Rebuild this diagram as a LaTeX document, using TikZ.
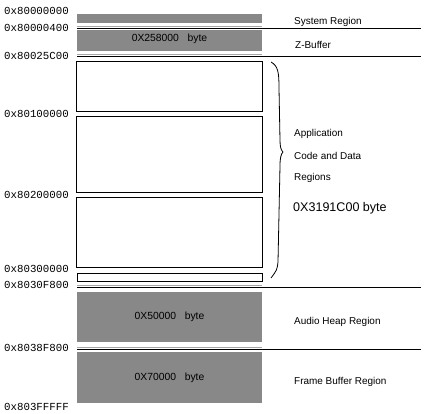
\documentclass[tikz,border=0pt]{standalone}
\usepackage{fontspec}
\setmainfont{Liberation Sans}
\newfontfamily\addrfont{Liberation Mono}
\usepackage{xcolor}
\definecolor{blockgray}{RGB}{136,136,136}
\usetikzlibrary{positioning}

\begin{document}
\begin{tikzpicture}[x=1bp, y=-1bp,
        graybox/.style={rectangle, fill=blockgray, inner sep=0pt, outer sep=0pt, minimum width=185bp},
        appbox/.style={rectangle, draw, line width=1bp, fill=white, inner sep=0pt, outer sep=0pt, minimum width=185bp},
        addr/.style={anchor=west, inner sep=0pt, font=\addrfont\fontsize{10.8}{12}\selectfont},
        region/.style={anchor=west, inner sep=0pt, font=\fontsize{10}{11}\selectfont},
        size/.style={inner sep=0pt, font=\fontsize{10.4}{11}\selectfont}]
        \useasboundingbox (0,0) rectangle (426,414);

        % memory blocks
        \node[graybox, minimum height=9.5bp] (sys) at (169.5,18.5) {};
        \node[graybox, minimum height=21bp] (zbuf) at (169.5,40.5) {};
        \node[appbox, minimum height=50bp] (app1) at (169.5,86) {};
        \node[appbox, minimum height=76bp] (app2) at (169.5,154) {};
        \node[appbox, minimum height=70bp] (app3) at (169.5,232) {};
        \node[appbox, line width=0.8bp, minimum height=8bp] (app4) at (169.5,277) {};
        \node[graybox, minimum height=50.5bp] (audio) at (169.5,317) {};
        \node[graybox, minimum height=51bp] (frame) at (169.5,377.5) {};

        \node[size] at ([yshift=1.5bp]zbuf) {0X258000\ \ \ byte};
        \node[size] at (audio) {0X50000\ \ \ byte};
        \node[size] at (frame) {0X70000\ \ \ byte};

        % separator lines
        \coordinate (s1a) at (77,28);
        \coordinate (s1b) at (421,28);
        \coordinate (s2a) at (77,56);
        \coordinate (s2b) at (421,56);
        \coordinate (s3a) at (77,287);
        \coordinate (s3b) at (421,287);
        \coordinate (s4a) at (77,349);
        \coordinate (s4b) at (421,349);
        \draw[line width=1bp] (s1a) to (s1b)
            (s2a) to (s2b)
            (s3a) to (s3b)
            (s4a) to (s4b);
        \draw[gray!70, line width=0.8bp] ([yshift=2bp]s1a) to ++(185,0)
            ([yshift=2bp]s2a) to ++(185,0)
            ([yshift=2bp]s3a) to ++(185,0)
            ([yshift=2bp]s4a) to ++(185,0);

        % addresses
        \node[addr] (a0) at (4,10.5) {0x80000000};
        \node[addr] (a1) at (4,28) {0x80000400};
        \node[addr] (a2) at (4,55.5) {0x80025C00};
        \node[addr] (a3) at (4,114) {0x80100000};
        \node[addr] (a4) at (4,195) {0x80200000};
        \node[addr] (a5) at (4,269) {0x80300000};
        \node[addr] (a6) at (4,285) {0x8030F800};
        \node[addr] (a7) at (4,348) {0x8038F800};
        \node[addr] (a8) at (4,407) {0x803FFFFF};

        % region names
        \node[region] (r0) at (294,22) {System Region};
        \node[region] (r1) at (295,45) {Z-Buffer};
        \node[region] (r2) at (294,134) {Application};
        \node[region] (r3) at (294,156) {Code and Data};
        \node[region] (r4) at (294,178) {Regions};
        \node[anchor=west, inner sep=0pt, font=\fontsize{12.6}{14}\selectfont] (r5) at (293,208) {0X3191C00 byte};
        \node[region] (r6) at (294,322) {Audio Heap Region};
        \node[region] (r7) at (294,382) {Frame Buffer Region};

        % brace
        \coordinate (bt) at (271,62);
        \coordinate (bb) at (271,278);
        \draw[line width=0.8bp] (bt) .. controls (278,66) and (279,72) .. (279,88)
            -- (280,140) .. controls (280,147) and (281,150) .. (283,152)
            .. controls (281,154) and (280,158) .. (280,166)
            -- (278,262) .. controls (277,270) .. (bb);
\end{tikzpicture}
\end{document}
